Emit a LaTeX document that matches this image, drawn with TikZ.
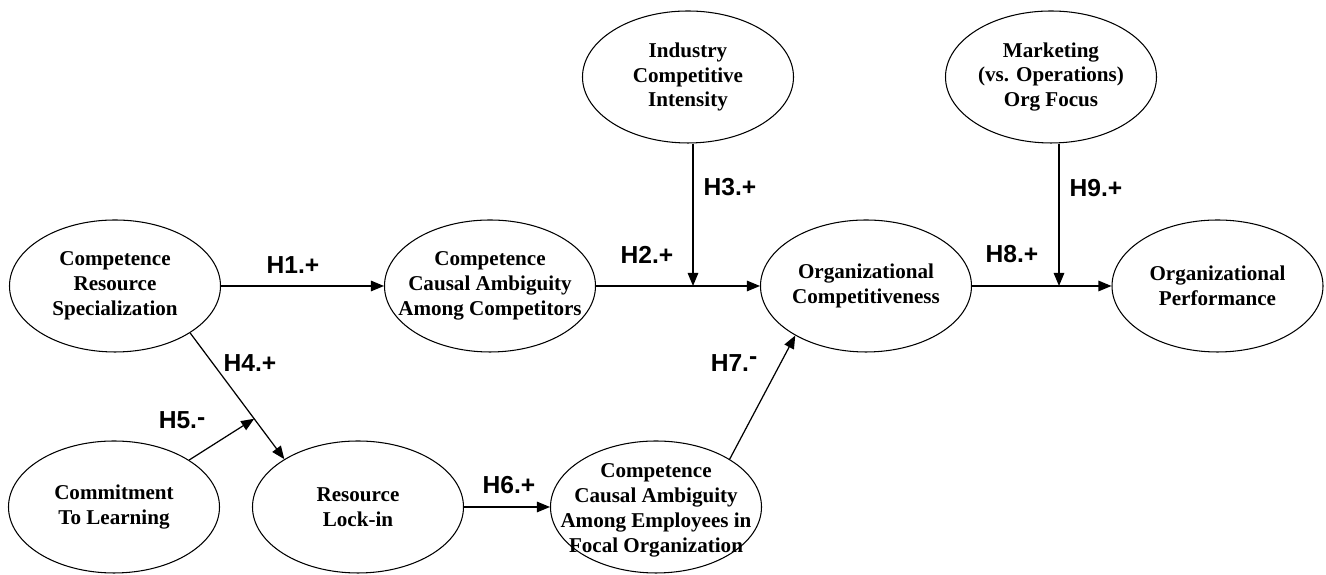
\documentclass[tikz,border=0pt]{standalone}
\usepackage{fontspec}
\setmainfont{Liberation Serif}
\newfontfamily\hypfont{Liberation Sans}
\usetikzlibrary{arrows.meta,positioning,calc,shapes.geometric}

\tikzset{
	construct/.style={draw, ellipse, line width=0.6pt, minimum width=4.22cm, minimum height=2.64cm, inner sep=0pt},
	cname/.style={align=center, font=\fontsize{12}{14.2}\selectfont\bfseries},
	hyp/.style={font=\hypfont\bfseries\fontsize{14}{16}\selectfont},
	link/.style={line width=0.7pt, -{Triangle[length=2.6mm,width=2.1mm]}}
}

\begin{document}
\begin{tikzpicture}
				\useasboundingbox (0,0) rectangle (26.52,11.5);

				% constructs, upper row
				\node[construct] (crs) at (2.30,5.78) {};
				\node[cname] (crs-t) at (crs) {Competence\\Resource\\Specialization};

				\node[construct] (cac) at (9.80,5.78) {};
				\node[cname] (cac-t) at (cac) {Competence\\Causal Ambiguity\\Among Competitors};

				\node[construct] (ici) at (13.76,9.96) {};
				\node[cname] (ici-t) at (ici) {Industry\\Competitive\\Intensity};

				\node[construct] (oc) at (17.32,5.78) {};
				\node[cname] (oc-t) at (oc) {Organizational\\Competitiveness};

				\node[construct] (mof) at (21.02,9.96) {};
				\node[cname] (mof-t) at (mof) {Marketing\\(vs. Operations)\\Org Focus};

				\node[construct] (op) at (24.35,5.78) {};
				\node[cname] (op-t) at (op) {Organizational\\Performance};

				% constructs, lower row
				\node[construct] (ctl) at (2.28,1.36) {};
				\node[cname] (ctl-t) at (ctl) {Commitment\\To Learning};

				\node[construct] (rli) at (7.16,1.36) {};
				\node[cname] (rli-t) at (rli) {Resource\\Lock-in};

				\node[construct] (cae) at (13.12,1.36) {};
				\node[cname] (cae-t) at (13.12,1.30) {Competence\\Causal Ambiguity\\Among Employees in\\Focal Organization};

				% moderation points
				\coordinate (t1) at ($(ici.south)+(0.10,0)$);
				\coordinate (t2) at ($(mof.south)+(0.16,0)$);
				\coordinate (m1) at (t1 |- cac.east);
				\coordinate (m2) at (t2 |- oc.east);
				\coordinate (m3) at ($(crs.-32)!0.68!(rli.147)$);

				\draw[link] (crs.east) -- (cac.west);
				\draw[link] (cac.east) -- (oc.west);
				\draw[link] (t1) -- (m1);
				\draw[link] (oc.east) -- (op.west);
				\draw[link] (t2) -- (m2);
				\draw[link] (crs.-32) -- (rli.147);
				\draw[link] (ctl.32) -- (m3);
				\draw[link] (rli.east) -- (cae.west);
				\draw[link] (cae.33) -- (oc.215);

				% hypothesis labels
				\node[hyp] (h1) at (5.86,6.20) {H1.+};
				\node[hyp] (h2) at (12.94,6.40) {H2.+};
				\node[hyp] (h3) at (14.60,7.76) {H3.+};
				\node[hyp] (h4) at (5.00,4.24) {H4.+};
				\node[hyp] (h5) at (3.64,3.10) {H5.\raisebox{0.2ex}{-}};
				\node[hyp] (h6) at (10.18,1.80) {H6.+};
				\node[hyp] (h7) at (14.68,4.24) {H7.\raisebox{0.5ex}{-}};
				\node[hyp] (h8) at (20.24,6.42) {H8.+};
				\node[hyp] (h9) at (21.92,7.74) {H9.+};
\end{tikzpicture}
\end{document}
